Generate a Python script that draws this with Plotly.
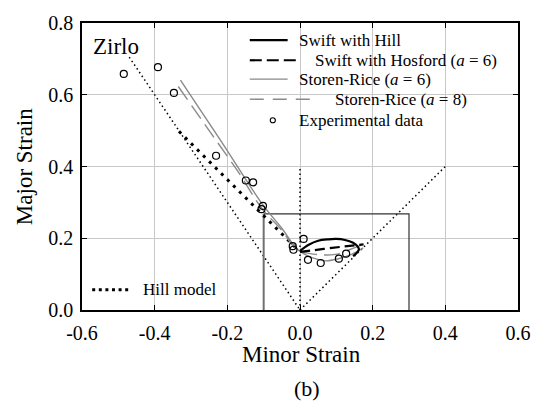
import plotly.graph_objects as go

# ---------------- data ----------------
x_ticks = [-0.6, -0.4, -0.2, 0.0, 0.2, 0.4, 0.6]
x_tick_labels = ["-0.6", "-0.4", "-0.2", "0.0", "0.2", "0.4", "0.6"]
y_ticks = [0.0, 0.2, 0.4, 0.6, 0.8]
y_tick_labels = ["0.0", "0.2", "0.4", "0.6", "0.8"]

# reference (thin dotted) strain paths
path_left_x = [-0.47, 0.0]
path_left_y = [0.705, 0.0]
path_mid_x = [0.0, 0.0]
path_mid_y = [0.0, 0.4]
path_right_x = [0.0, 0.4]
path_right_y = [0.0, 0.4]

# window rectangle
rect_left_x = [-0.1, -0.1]
rect_left_y = [0.0, 0.268]
rect_rest_x = [-0.1, 0.3, 0.3]
rect_rest_y = [0.268, 0.268, 0.0]

hill_x = [-0.333, -0.2, -0.1, -0.035, -0.01]
hill_y = [0.498, 0.364, 0.265, 0.2, 0.172]

swift_hill_x = [0.0, 0.024, 0.05, 0.078, 0.10, 0.124, 0.145, 0.158, 0.162, 0.155, 0.146]
swift_hill_y = [0.165, 0.182, 0.193, 0.197, 0.198, 0.195, 0.188, 0.178, 0.168, 0.158, 0.150]

swift_hosford_x = [0.0, 0.04, 0.088, 0.13, 0.175]
swift_hosford_y = [0.162, 0.167, 0.173, 0.178, 0.183]

sr6_x = [-0.329, -0.22, -0.1, -0.05, -0.02, 0.0, 0.01, 0.033, 0.069, 0.106, 0.142, 0.174]
sr6_y = [0.641, 0.475, 0.29, 0.228, 0.185, 0.163, 0.157, 0.146, 0.137, 0.143, 0.155, 0.173]

sr8_x = [-0.335, -0.25, -0.17, -0.105, -0.05, -0.02, 0.0, 0.01, 0.042, 0.097, 0.151, 0.183]
sr8_y = [0.623, 0.50, 0.385, 0.283, 0.222, 0.18, 0.163, 0.161, 0.155, 0.155, 0.174, 0.187]

exp_x = [-0.485, -0.391, -0.347, -0.231, -0.149, -0.129, -0.102, -0.106, -0.020, -0.018,
         0.010, 0.022, 0.057, 0.107, 0.127]
exp_y = [0.658, 0.677, 0.605, 0.430, 0.361, 0.356, 0.290, 0.281, 0.178, 0.168,
         0.198, 0.140, 0.131, 0.143, 0.157]

legend_labels = ["Swift with Hill", "Swift with Hosford (<i>a</i> = 6)",
                 "Storen-Rice (<i>a</i> = 6)", "Storen-Rice (<i>a</i> = 8)",
                 "Experimental data"]
hill_label = "Hill model"

# ---------------- figure ----------------
FONT = "Liberation Serif, Times New Roman, serif"
W, H = 543, 405
L, R, T, B = 82, 20, 15, 95
PW, PH = W - L - R, H - T - B

def px(xp):                  # pixel x -> paper
    return (xp - L) / PW

def py(yp):                  # pixel y -> paper
    return (H - B - yp) / PH

GRAY = "#8a8a8a"
fig = go.Figure()

dot_thin = dict(color="black", width=1.5, dash="1.5px,3px")
for xs, ys in [(path_left_x, path_left_y), (path_mid_x, path_mid_y), (path_right_x, path_right_y)]:
    fig.add_trace(go.Scatter(x=xs, y=ys, mode="lines", line=dot_thin, showlegend=False, hoverinfo="skip"))

fig.add_trace(go.Scatter(x=rect_left_x, y=rect_left_y, mode="lines",
                         line=dict(color="#707070", width=2), showlegend=False))
fig.add_trace(go.Scatter(x=rect_rest_x, y=rect_rest_y, mode="lines",
                         line=dict(color="#333333", width=1.2), showlegend=False))

fig.add_trace(go.Scatter(x=hill_x, y=hill_y, mode="lines",
                         line=dict(color="black", width=3, dash="3px,5.5px"), showlegend=False))

fig.add_trace(go.Scatter(x=sr6_x, y=sr6_y, mode="lines", line_shape="spline",
                         line=dict(color=GRAY, width=1.4), showlegend=False))
fig.add_trace(go.Scatter(x=sr8_x, y=sr8_y, mode="lines", line_shape="spline",
                         line=dict(color=GRAY, width=1.4, dash="16px,7px"), showlegend=False))
fig.add_trace(go.Scatter(x=swift_hill_x, y=swift_hill_y, mode="lines", line_shape="spline",
                         line=dict(color="black", width=2.2), showlegend=False))
fig.add_trace(go.Scatter(x=swift_hosford_x, y=swift_hosford_y, mode="lines", line_shape="spline",
                         line=dict(color="black", width=2.2, dash="10px,5px"), showlegend=False))

fig.add_trace(go.Scatter(x=exp_x, y=exp_y, mode="markers",
                         marker=dict(symbol="circle-open", size=7, color="black",
                                     line=dict(width=1.2, color="black")),
                         showlegend=False))

# ---------------- manual legend ----------------
leg_rows_y = [32.7, 53.3, 72.7, 93.3, 115.0]
leg_line_x0 = 251.7
leg_line_x1 = [290.0, 298.3, 290.0, 313.3]
leg_text_x = [299.3, 316.0, 299.3, 336.0, 299.3]
leg_styles = [dict(color="black", width=2.2),
              dict(color="black", width=2.2, dash="12px,5px"),
              dict(color=GRAY, width=1.4),
              dict(color=GRAY, width=1.4, dash="14px,9px")]
shapes = []
for i in range(4):
    shapes.append(dict(type="line", xref="paper", yref="paper",
                       x0=px(leg_line_x0), x1=px(leg_line_x1[i]),
                       y0=py(leg_rows_y[i]), y1=py(leg_rows_y[i]), line=leg_styles[i]))
r = 2.6
shapes.append(dict(type="circle", xref="paper", yref="paper",
                   x0=px(275 - r), x1=px(275 + r), y0=py(115 + r), y1=py(115 - r),
                   line=dict(color="black", width=1.1)))
shapes.append(dict(type="line", xref="paper", yref="paper",
                   x0=px(92.3), x1=px(131.7), y0=py(289.3), y1=py(289.3),
                   line=dict(color="black", width=3, dash="3px,3.6px")))

annotations = []
for i, lab in enumerate(legend_labels):
    annotations.append(dict(text=lab, xref="paper", yref="paper", x=px(leg_text_x[i]), y=py(leg_rows_y[i]),
                            xanchor="left", yanchor="middle", showarrow=False,
                            font=dict(family=FONT, size=17, color="black")))
annotations.append(dict(text=hill_label, xref="paper", yref="paper", x=px(141.7), y=py(289.3),
                        xanchor="left", yanchor="middle", showarrow=False,
                        font=dict(family=FONT, size=17, color="black")))
annotations.append(dict(text="Zirlo", xref="paper", yref="paper", x=px(91), y=py(39.5),
                        xanchor="left", yanchor="middle", showarrow=False,
                        font=dict(family=FONT, size=23, color="black")))
annotations.append(dict(text="Minor Strain", xref="paper", yref="paper", x=px(304), y=py(355.5),
                        xanchor="center", yanchor="middle", showarrow=False,
                        font=dict(family=FONT, size=23, color="black")))
annotations.append(dict(text="Major Strain", xref="paper", yref="paper", x=px(24), y=py(162.5),
                        xanchor="center", yanchor="middle", showarrow=False, textangle=-90,
                        font=dict(family=FONT, size=23, color="black")))
annotations.append(dict(text="(b)", xref="paper", yref="paper", x=px(310), y=py(391),
                        xanchor="center", yanchor="middle", showarrow=False,
                        font=dict(family=FONT, size=22, color="black")))

axis_common = dict(showgrid=True, gridcolor="#c8c8c8", gridwidth=1,
                   showline=True, linecolor="black", linewidth=1.5, mirror="ticks",
                   ticks="inside", ticklen=5, tickwidth=1.2, tickcolor="black",
                   zeroline=False, tickfont=dict(family=FONT, size=20, color="black"))

fig.update_layout(
    width=W, height=H, margin=dict(l=L, r=R, t=T, b=B, pad=0),
    paper_bgcolor="white", plot_bgcolor="white",
    xaxis=dict(range=[-0.6, 0.6], tickvals=x_ticks, ticktext=x_tick_labels,
               ticklabelstandoff=4, ticklabeloverflow="allow", **axis_common),
    yaxis=dict(range=[0.0, 0.8], tickvals=y_ticks, ticktext=y_tick_labels,
               ticklabelstandoff=3, ticklabeloverflow="allow", **axis_common),
    shapes=shapes, annotations=annotations, showlegend=False,
)

fig.write_html("out.html", config={"displayModeBar": False},
               post_script="document.body.style.margin='0px';document.body.style.overflow='hidden';")
